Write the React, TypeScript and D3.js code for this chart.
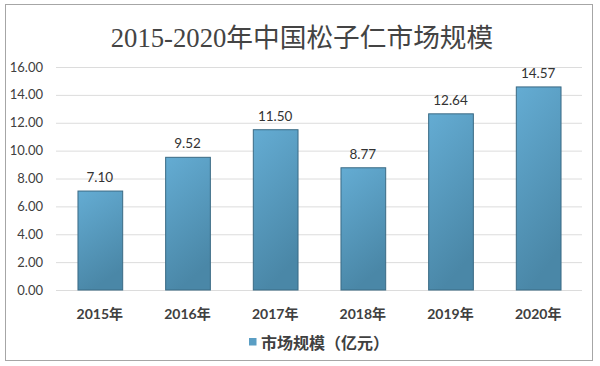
import React from 'react';
import * as d3 from 'd3';

const years = ['2015年', '2016年', '2017年', '2018年', '2019年', '2020年'];
const marketSize = [7.1, 9.52, 11.5, 8.77, 12.64, 14.57];
const yTicks = [0, 2, 4, 6, 8, 10, 12, 14, 16];
const title = '2015-2020年中国松子仁市场规模';
const legendLabel = '市场规模（亿元）';

const W = 600;
const H = 366;
const margin = { top: 67, right: 18, bottom: 76, left: 56 };

const sansFont = 'Lato, "Noto Sans CJK SC", sans-serif';
const serifFont = '"Liberation Serif", "DejaVu Serif", "Noto Sans CJK SC", serif';

const App = () => {
  const innerW = W - margin.left - margin.right;
  const innerH = H - margin.top - margin.bottom;

  const x = d3.scaleBand().domain(years).range([0, innerW]).paddingInner(0.49).paddingOuter(0.245);
  const y = d3.scaleLinear().domain([0, 16]).range([innerH, 0]);

  return (
    <div style={{ position: 'absolute', left: 0, top: 0 }}>
      <svg width={W} height={H} style={{ display: 'block', background: '#fff' }}>
        <defs>
          <linearGradient id="barGradient" x1="0%" y1="0%" x2="30%" y2="100%">
            <stop offset="0%" stopColor="#64acd3" />
            <stop offset="100%" stopColor="#4a87a7" />
          </linearGradient>
        </defs>
        {/* outer frame */}
        <rect x={5.5} y={4.5} width={587} height={356} fill="#fff" stroke="#a6a6a6" strokeWidth={1} />

        <text x={302} y={47} textAnchor="middle" fontFamily={serifFont} fontSize={26.7} fill="#444">
          {title}
        </text>

        <g transform={`translate(${margin.left},${margin.top})`}>
          {yTicks.map(t => (
            <g key={t}>
              <line x1={0} x2={innerW} y1={y(t) + 0.5} y2={y(t) + 0.5} stroke="#dcdcdc" strokeWidth={1} />
              <text x={-13} y={y(t)} dy="0.35em" textAnchor="end" fontFamily={sansFont} fontSize={13} fill="#404040">
                {t.toFixed(2)}
              </text>
            </g>
          ))}

          {years.map((yr, i) => {
            const v = marketSize[i];
            const bx = x(yr) as number;
            return (
              <g key={yr}>
                <rect
                  x={bx + 0.5}
                  y={y(v)}
                  width={x.bandwidth()}
                  height={innerH - y(v)}
                  fill="url(#barGradient)"
                  stroke="#3a6a84"
                  strokeWidth={1}
                />
                <text x={bx + x.bandwidth() / 2} y={y(v) - 9} textAnchor="middle" fontFamily={sansFont} fontSize={13.5} fill="#333">
                  {v.toFixed(2)}
                </text>
                <text x={bx + x.bandwidth() / 2} y={innerH + 29} textAnchor="middle" fontFamily={sansFont} fontSize={14} fontWeight="bold" fill="#404040">
                  {yr}
                </text>
              </g>
            );
          })}
        </g>

        {/* legend */}
        <rect x={249} y={338} width={7.5} height={7.5} fill="#5a9ec4" />
        <text x={261} y={349} fontFamily={sansFont} fontSize={16} fontWeight="bold" fill="#404040">
          {legendLabel}
        </text>
      </svg>
    </div>
  );
};

export default App;
